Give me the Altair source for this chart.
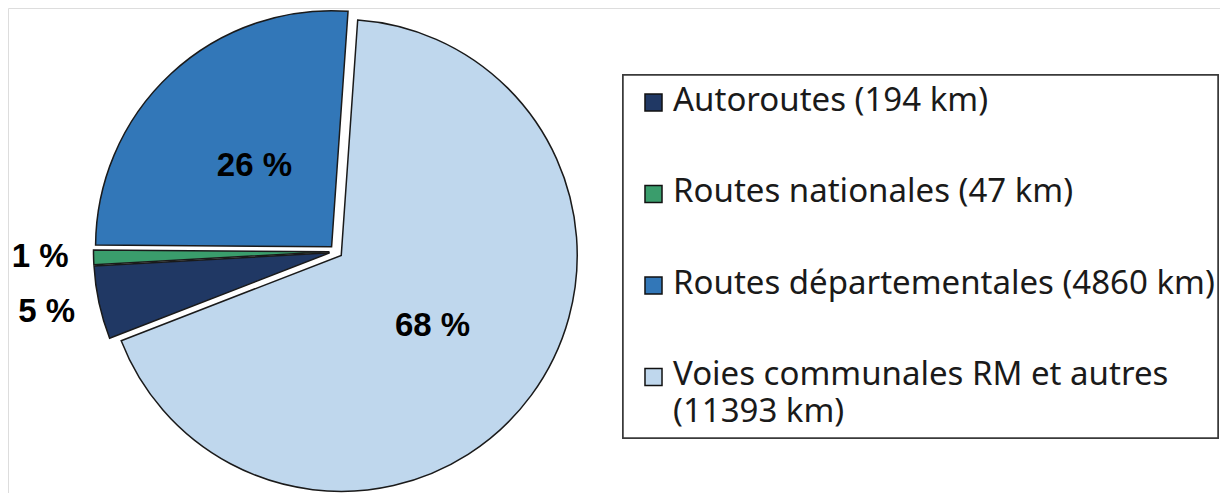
import math
import altair as alt
import pandas as pd

# ---- data ----
legend_labels = [
    "Voies communales RM et autres\n(11393 km)",
    "Autoroutes (194 km)",
    "Routes nationales (47 km)",
    "Routes départementales (4860 km)",
]
pct_values = [68, 5, 1, 26]              # share of the network (%), clockwise
pct_text = ["68 %", "5 %", "1 %", "26 %"]
slice_order = [0, 1, 2, 3]
label_side = ["in", "out", "out", "in"]

legend_order = [
    "Autoroutes (194 km)",
    "Routes nationales (47 km)",
    "Routes départementales (4860 km)",
    "Voies communales RM et autres\n(11393 km)",
]
legend_colors = ["#203864", "#3a9d6c", "#3277b8", "#bfd7ed"]

df = pd.DataFrame({
    "label": legend_labels,
    "pct": pct_values,
    "txt": pct_text,
    "order": slice_order,
    "side": label_side,
})
leg_df = pd.DataFrame({"label": legend_order})

# ---- layout / style ----
CX, CY = 328, 243.5        # pie centre (px)
R = 236                    # pie radius
EXPLODE = 6.5              # explosion distance
START = math.radians(4)    # angle of first slice
TWO_PI = 2 * math.pi
LEG_X0, LEG_X1, LEG_Y0, LEG_Y1 = 615, 1210, 67, 430   # legend box
LEG_ROW0, LEG_ROW1 = 94.5, 369                         # first/last legend row centre
LEG_SYM_X, LEG_TXT_X = 645.5, 665

color_scale = alt.Scale(domain=legend_order, range=legend_colors)

base = alt.Chart(df).transform_window(
    end="sum(pct)", sort=[alt.SortField("order")], frame=[None, 0]
).transform_calculate(
    start="datum.end - datum.pct",
    mid="(datum.end - datum.pct/2)",
    ang=f"(datum.end - datum.pct/2) / 100 * 2 * PI + {START}",
).transform_calculate(
    px=f"{CX} + {EXPLODE} * sin(datum.ang)",
    py=f"{CY} - {EXPLODE} * cos(datum.ang)",
)

theta_scale = alt.Scale(domain=[0, 100], range=[START, START + TWO_PI])

pie = base.mark_arc(
    outerRadius=R, stroke="#1a1a1a", strokeWidth=1.5, strokeJoin="miter"
).encode(
    theta=alt.Theta("start:Q", scale=theta_scale),
    theta2="end:Q",
    x=alt.X("px:Q", scale=None),
    y=alt.Y("py:Q", scale=None),
    color=alt.Color("label:N", scale=color_scale, legend=None),
)

inside = base.transform_filter("datum.side == 'in'").mark_text(
    radius=120, dy=3, font="Liberation Sans", fontWeight="bold", fontSize=33, color="black"
).encode(
    theta=alt.Theta("mid:Q", scale=theta_scale),
    x=alt.value(CX),
    y=alt.value(CY),
    text="txt:N",
)

outside = base.transform_filter("datum.side == 'out'").mark_text(
    radius=296, dy=-2, font="Liberation Sans", fontWeight="bold", fontSize=33, color="black"
).encode(
    theta=alt.Theta("mid:Q", scale=theta_scale),
    x=alt.value(CX),
    y=alt.value(CY),
    text="txt:N",
)

# ---- legend ----
leg_base = alt.Chart(leg_df)
leg_y = alt.Y("label:N", sort=legend_order, axis=None,
              scale=alt.Scale(type="point", range=[LEG_ROW0, LEG_ROW1], padding=0))

leg_box = leg_base.mark_rect(
    fill="white", stroke="#3a3a3a", strokeWidth=1.5
).encode(
    x=alt.value(LEG_X0), x2=alt.value(LEG_X1), y=alt.value(LEG_Y0), y2=alt.value(LEG_Y1)
)

leg_sym = leg_base.mark_point(
    shape="square", size=290, filled=True, opacity=1, stroke="#111111", strokeWidth=1.5
).encode(
    x=alt.value(LEG_SYM_X),
    y=leg_y,
    fill=alt.Color("label:N", scale=color_scale, legend=None),
)

leg_txt = leg_base.mark_text(
    align="left", baseline="alphabetic", dy=8, lineBreak="\n", lineHeight=36.5,
    font="Noto Sans", fontSize=33, color="#1a1a1a"
).encode(
    x=alt.value(LEG_TXT_X),
    y=leg_y,
    text="label:N",
)

chart = alt.layer(pie, inside, outside, leg_box, leg_sym, leg_txt).resolve_scale(
    y="independent"
).properties(
    width=1212, height=485, padding=0, autosize=alt.AutoSizeParams(type="none")
).configure_view(strokeWidth=0, stroke="transparent").configure(background="white")

chart.save("out.html", embed_options={"renderer": "svg", "actions": False})
